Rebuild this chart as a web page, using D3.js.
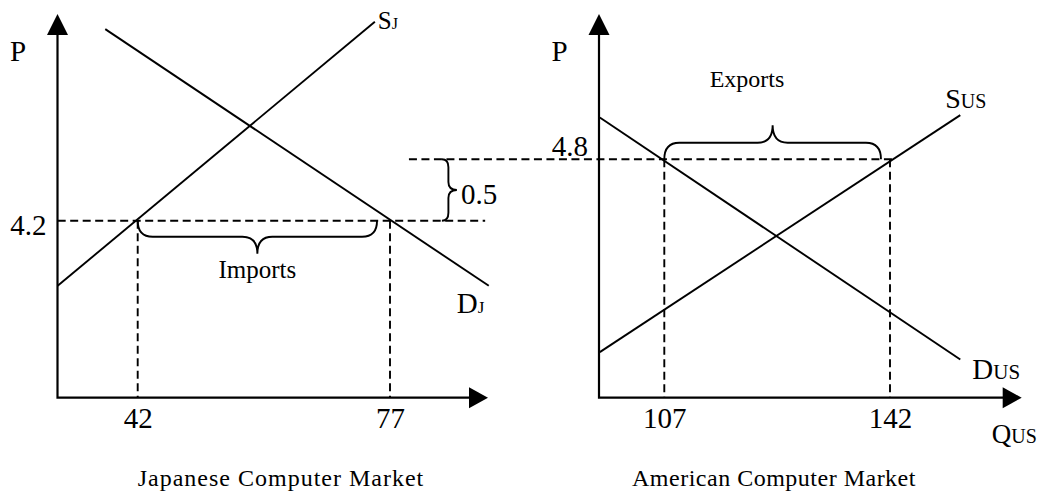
<!DOCTYPE html>
<html>
<head>
<meta charset="utf-8">
<script src="https://cdn.jsdelivr.net/npm/d3@7"></script>
<style>
  html, body { margin: 0; padding: 0; background: #fff; }
  svg { display: block; font-family: "Liberation Serif", "Times New Roman", serif; }
</style>
</head>
<body>
<svg id="chart" width="1054" height="494"></svg>
<script>
// --- Japanese market (Q, P) ---
const jpTicksQ = [42, 77];
const jpTicksP = [4.2];
const jpSupply = [{ q: 30.9, p: 3.67 }, { q: 74.9, p: 5.82 }];
const jpDemand = [{ q: 37.5, p: 5.76 }, { q: 90.7, p: 3.67 }];
const jpWorldLine = [30.9, 90.2];      // dashed P = 4.2 line, Q from/to
const jpImports = [42, 75.2];          // brace under the 4.2 line
const jpGap = [4.2, 4.7];              // the 0.5 brace
const jpGapQ = 84.2;

// --- American market ---
const usTicksQ = [107, 142];
const usTicksP = [4.8];
const usSupply = [{ q: 97.0, p: 3.23 }, { q: 152.9, p: 5.16 }];
const usDemand = [{ q: 97.0, p: 5.14 }, { q: 152.9, p: 3.17 }];
const usWorldLine = [67.4, 142.8];     // dashed P = 4.8 line, runs back into the left panel
const usExports = [107, 140.6];

const svg = d3.select("#chart");
const INK = "#000";
const DASH = "8,4.5";
const SERIF = '"Liberation Serif", "Times New Roman", serif';

// panel frames (axis origin and arrow tips, in px)
const jpFrame = { x0: 57.5, y0: 397.7, xTip: 488, yTip: 14 };
const usFrame = { x0: 599, y0: 397.7, xTip: 1021.7, yTip: 14 };

// scales anchored on the labelled values
const xJ = d3.scaleLinear().domain([42, 77]).range([137.7, 390]);
const yJ = d3.scaleLinear().domain([4.2, 4.7]).range([220.7, 159.3]);
const xU = d3.scaleLinear().domain([107, 142]).range([664.3, 890]);
const yU = d3.scaleLinear().domain([4.3, 4.8]).range([220.7, 159.3]);

// curly brace: runs from a to b along one direction, ends at `base`,
// flat part at base+h1, tip at base+h2 (vertical = brace runs up/down)
function brace(a, b, base, h1, h2, r, vertical) {
  const m = (a + b) / 2, f = base + h1, t = base + h2;
  const P = (u, v) => vertical ? `${v},${u}` : `${u},${v}`;
  return `M${P(a, base)}Q${P(a, f)} ${P(a + r, f)}L${P(m - r, f)}` +
         `Q${P(m, f)} ${P(m, t)}Q${P(m, f)} ${P(m + r, f)}` +
         `L${P(b - r, f)}Q${P(b, f)} ${P(b, base)}`;
}

function drawAxes(fr) {
  const g = svg.append("g");
  g.append("path")
    .attr("d", `M${fr.x0},${fr.yTip + 18}V${fr.y0}H${fr.xTip - 16}`)
    .attr("fill", "none").attr("stroke", INK).attr("stroke-width", 2.2);
  // arrow heads
  g.append("path")
    .attr("d", `M${fr.x0},${fr.yTip}L${fr.x0 - 10.5},${fr.yTip + 21}L${fr.x0 + 10.5},${fr.yTip + 21}Z`)
    .attr("fill", INK);
  g.append("path")
    .attr("d", `M${fr.xTip},${fr.y0}L${fr.xTip - 19},${fr.y0 - 10.5}L${fr.xTip - 19},${fr.y0 + 10.5}Z`)
    .attr("fill", INK);
  g.append("text").attr("x", fr.x0 - 47.5).attr("y", 61)
    .style("font-size", "29px").text("P");
}

function drawTicks(fr, x, y, qTicks, pTicks, pDy) {
  const gx = svg.append("g").attr("transform", `translate(0,${fr.y0})`)
    .call(d3.axisBottom(x).tickValues(qTicks).tickSize(0).tickPadding(10).tickFormat(d3.format("d")))
    .attr("font-family", SERIF).attr("font-size", 29);
  gx.select(".domain").remove();
  gx.selectAll("text").attr("fill", INK);

  const gy = svg.append("g").attr("transform", `translate(${fr.x0},0)`)
    .call(d3.axisLeft(y).tickValues(pTicks).tickSize(0).tickPadding(11).tickFormat(d3.format(".1f")))
    .attr("font-family", SERIF).attr("font-size", 29);
  gy.select(".domain").remove();
  gy.selectAll("text").attr("fill", INK).attr("dy", pDy);
}

function curve(pts, x, y) {
  const line = d3.line().x(d => x(d.q)).y(d => y(d.p));
  svg.append("path").datum(pts)
    .attr("d", line).attr("fill", "none")
    .attr("stroke", INK).attr("stroke-width", 1.9);
}

function dashed(x1, y1, x2, y2) {
  svg.append("line")
    .attr("x1", x1).attr("y1", y1).attr("x2", x2).attr("y2", y2)
    .attr("stroke", INK).attr("stroke-width", 1.9).attr("stroke-dasharray", DASH);
}

function curveLabel(pt, x, y, big, small, dx, dy, bigSize, smallSize) {
  const t = svg.append("text").attr("x", x(pt.q) + dx).attr("y", y(pt.p) + dy);
  t.append("tspan").style("font-size", bigSize + "px").text(big);
  t.append("tspan").style("font-size", smallSize + "px").text(small);
}

// ---------- Japanese panel ----------
drawAxes(jpFrame);
drawTicks(jpFrame, xJ, yJ, jpTicksQ, jpTicksP, "0.48em");

dashed(xJ(jpWorldLine[0]), yJ(4.2), xJ(jpWorldLine[1]), yJ(4.2));
jpTicksQ.forEach(q => dashed(xJ(q), yJ(4.2), xJ(q), jpFrame.y0));

curve(jpSupply, xJ, yJ);
curve(jpDemand, xJ, yJ);
curveLabel(jpSupply[1], xJ, yJ, "S", "J", 3, 7, 25, 16);
curveLabel(jpDemand[1], xJ, yJ, "D", "J", -32, 27, 29, 17);

svg.append("path")
  .attr("d", brace(xJ(jpImports[0]), xJ(jpImports[1]), yJ(4.2), 16, 33, 15, false))
  .attr("fill", "none").attr("stroke", INK).attr("stroke-width", 1.9);
svg.append("text")
  .attr("x", (xJ(jpImports[0]) + xJ(jpImports[1])) / 2).attr("y", 278)
  .attr("text-anchor", "middle").style("font-size", "25px").text("Imports");

svg.append("path")
  .attr("d", brace(yJ(jpGap[1]), yJ(jpGap[0]), xJ(jpGapQ), 6.5, 15, 8, true))
  .attr("fill", "none").attr("stroke", INK).attr("stroke-width", 1.9);
svg.append("text")
  .attr("x", xJ(jpGapQ) + 19).attr("y", (yJ(jpGap[0]) + yJ(jpGap[1])) / 2 + 14)
  .style("font-size", "29px").text((jpGap[1] - jpGap[0]).toFixed(1));

svg.append("text").attr("x", 281).attr("y", 486)
  .attr("text-anchor", "middle").style("font-size", "24px").style("letter-spacing", "1px")
  .text("Japanese Computer Market");

// ---------- American panel ----------
drawAxes(usFrame);
drawTicks(usFrame, xU, yU, usTicksQ, usTicksP, "-0.12em");

dashed(xU(usWorldLine[0]), yU(4.8), xU(usWorldLine[1]), yU(4.8));
usTicksQ.forEach(q => dashed(xU(q), yU(4.8), xU(q), usFrame.y0));

curve(usSupply, xU, yU);
curve(usDemand, xU, yU);
curveLabel(usSupply[1], xU, yU, "S", "US", -15, -7, 28, 20);
curveLabel(usDemand[1], xU, yU, "D", "US", 12, 20, 29, 21);

svg.append("path")
  .attr("d", brace(xU(usExports[0]), xU(usExports[1]), yU(4.8), -16.6, -34, 15, false))
  .attr("fill", "none").attr("stroke", INK).attr("stroke-width", 1.9);
svg.append("text")
  .attr("x", 747).attr("y", 87)
  .attr("text-anchor", "middle").style("font-size", "24px").text("Exports");

const qLabel = svg.append("text").attr("x", 991.7).attr("y", 443);
qLabel.append("tspan").style("font-size", "27px").text("Q");
qLabel.append("tspan").style("font-size", "20px").text("US");

svg.append("text").attr("x", 774).attr("y", 486)
  .attr("text-anchor", "middle").style("font-size", "24px").style("letter-spacing", "0.5px")
  .text("American Computer Market");
</script>
</body>
</html>
